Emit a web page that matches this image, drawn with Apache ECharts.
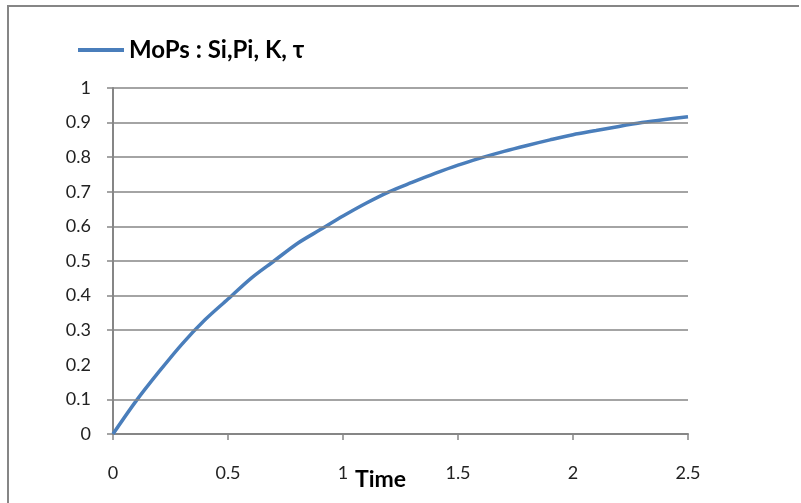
<!DOCTYPE html>
<html>
<head>
<meta charset="utf-8">
<script src="https://cdn.jsdelivr.net/npm/echarts@6/dist/echarts.min.js"></script>
<style>
  html, body { margin: 0; padding: 0; background: #fff; overflow: hidden; }
  #frame { position: absolute; left: 7px; top: 5px; width: 790px; height: 496px;
           border-left: 2px solid #868686; border-top: 2px solid #868686; }
  #main { position: absolute; left: 0; top: 0; width: 801px; height: 503px; }
</style>
</head>
<body>
<div id="frame"></div>
<div id="main"></div>
<script>
// 数据
var seriesName = 'MoPs : Si,Pi, K, τ';
var timeValues = [0, 0.1, 0.2, 0.3, 0.4, 0.5, 0.6, 0.7, 0.8, 0.9, 1.0, 1.1, 1.2,
                  1.3, 1.4, 1.5, 1.6, 1.7, 1.8, 1.9, 2.0, 2.1, 2.2, 2.3, 2.4, 2.5];
var mopsValues = [0, 0.095, 0.18, 0.26, 0.33, 0.39, 0.45, 0.5, 0.55, 0.59, 0.63, 0.667, 0.7,
                  0.727, 0.753, 0.777, 0.798, 0.817, 0.834, 0.85, 0.865, 0.877, 0.889, 0.9, 0.909, 0.917];
var yLabelTicks = [0, 0.1, 0.2, 0.3, 0.4, 0.5, 0.6, 0.7, 0.8, 0.9, 1];
// the 0.2 grid line / tick is absent in the original
var yGridTicks = [0, 0.1, 0.3, 0.4, 0.5, 0.6, 0.7, 0.8, 0.9, 1];

var chart = echarts.init(document.getElementById('main'));

var points = timeValues.map(function (t, i) { return [t, mopsValues[i]]; });

var gray = '#868686';
var font = 'Lato, "Open Sans", sans-serif';

//网格线 (0 is the axis line itself)
var gridLines = yGridTicks.filter(function (v) { return v > 0; }).map(function (v) {
    return { yAxis: v };
});

chart.setOption({
    animation: false,
    backgroundColor: 'transparent',
    legend: {
        left: 73,
        top: 33,
        icon: 'rect',
        itemWidth: 46,
        itemHeight: 4,
        itemGap: 4,
        textStyle: { fontFamily: font, fontSize: 24, fontWeight: 'bold', color: '#000' },
        data: [seriesName]
    },
    grid: { left: 113, right: 113, top: 88, bottom: 69, containLabel: false, outerBoundsMode: 'none' },
    xAxis: {
        type: 'value',
        min: 0,
        max: 2.5,
        interval: 0.5,
        name: 'Time',
        nameLocation: 'middle',
        nameGap: 34,
        nameMoveOverlap: false,
        nameTextStyle: { fontFamily: font, fontSize: 23, fontWeight: 'bold', color: '#000', padding: [0, 40, 0, 0] },
        axisLine: { show: true, lineStyle: { color: gray, width: 2 } },
        axisTick: { show: true, inside: false, length: 6, lineStyle: { color: gray, width: 1.5 } },
        axisLabel: { margin: 30, fontFamily: font, fontSize: 18, color: '#222' },
        splitLine: { show: false }
    },
    yAxis: {
        type: 'value',
        min: 0,
        max: 1,
        interval: 0.1,
        axisLine: { show: true, lineStyle: { color: gray, width: 2 } },
        axisTick: { show: true, inside: false, length: 6, customValues: yGridTicks,
                    lineStyle: { color: gray, width: 1.5 } },
        axisLabel: { margin: 22, fontFamily: font, fontSize: 18, color: '#222', customValues: yLabelTicks },
        splitLine: { show: false }
    },
    series: [{
        name: seriesName,
        type: 'line',
        data: points,
        showSymbol: false,
        smooth: 0.3,
        lineStyle: { color: '#4a7ebb', width: 3.5 },
        itemStyle: { color: '#4a7ebb' },
        markLine: {
            silent: true,
            symbol: 'none',
            label: { show: false },
            lineStyle: { color: gray, width: 1.5, type: 'solid' },
            data: gridLines
        },
        z: 3
    }]
});
</script>
</body>
</html>
